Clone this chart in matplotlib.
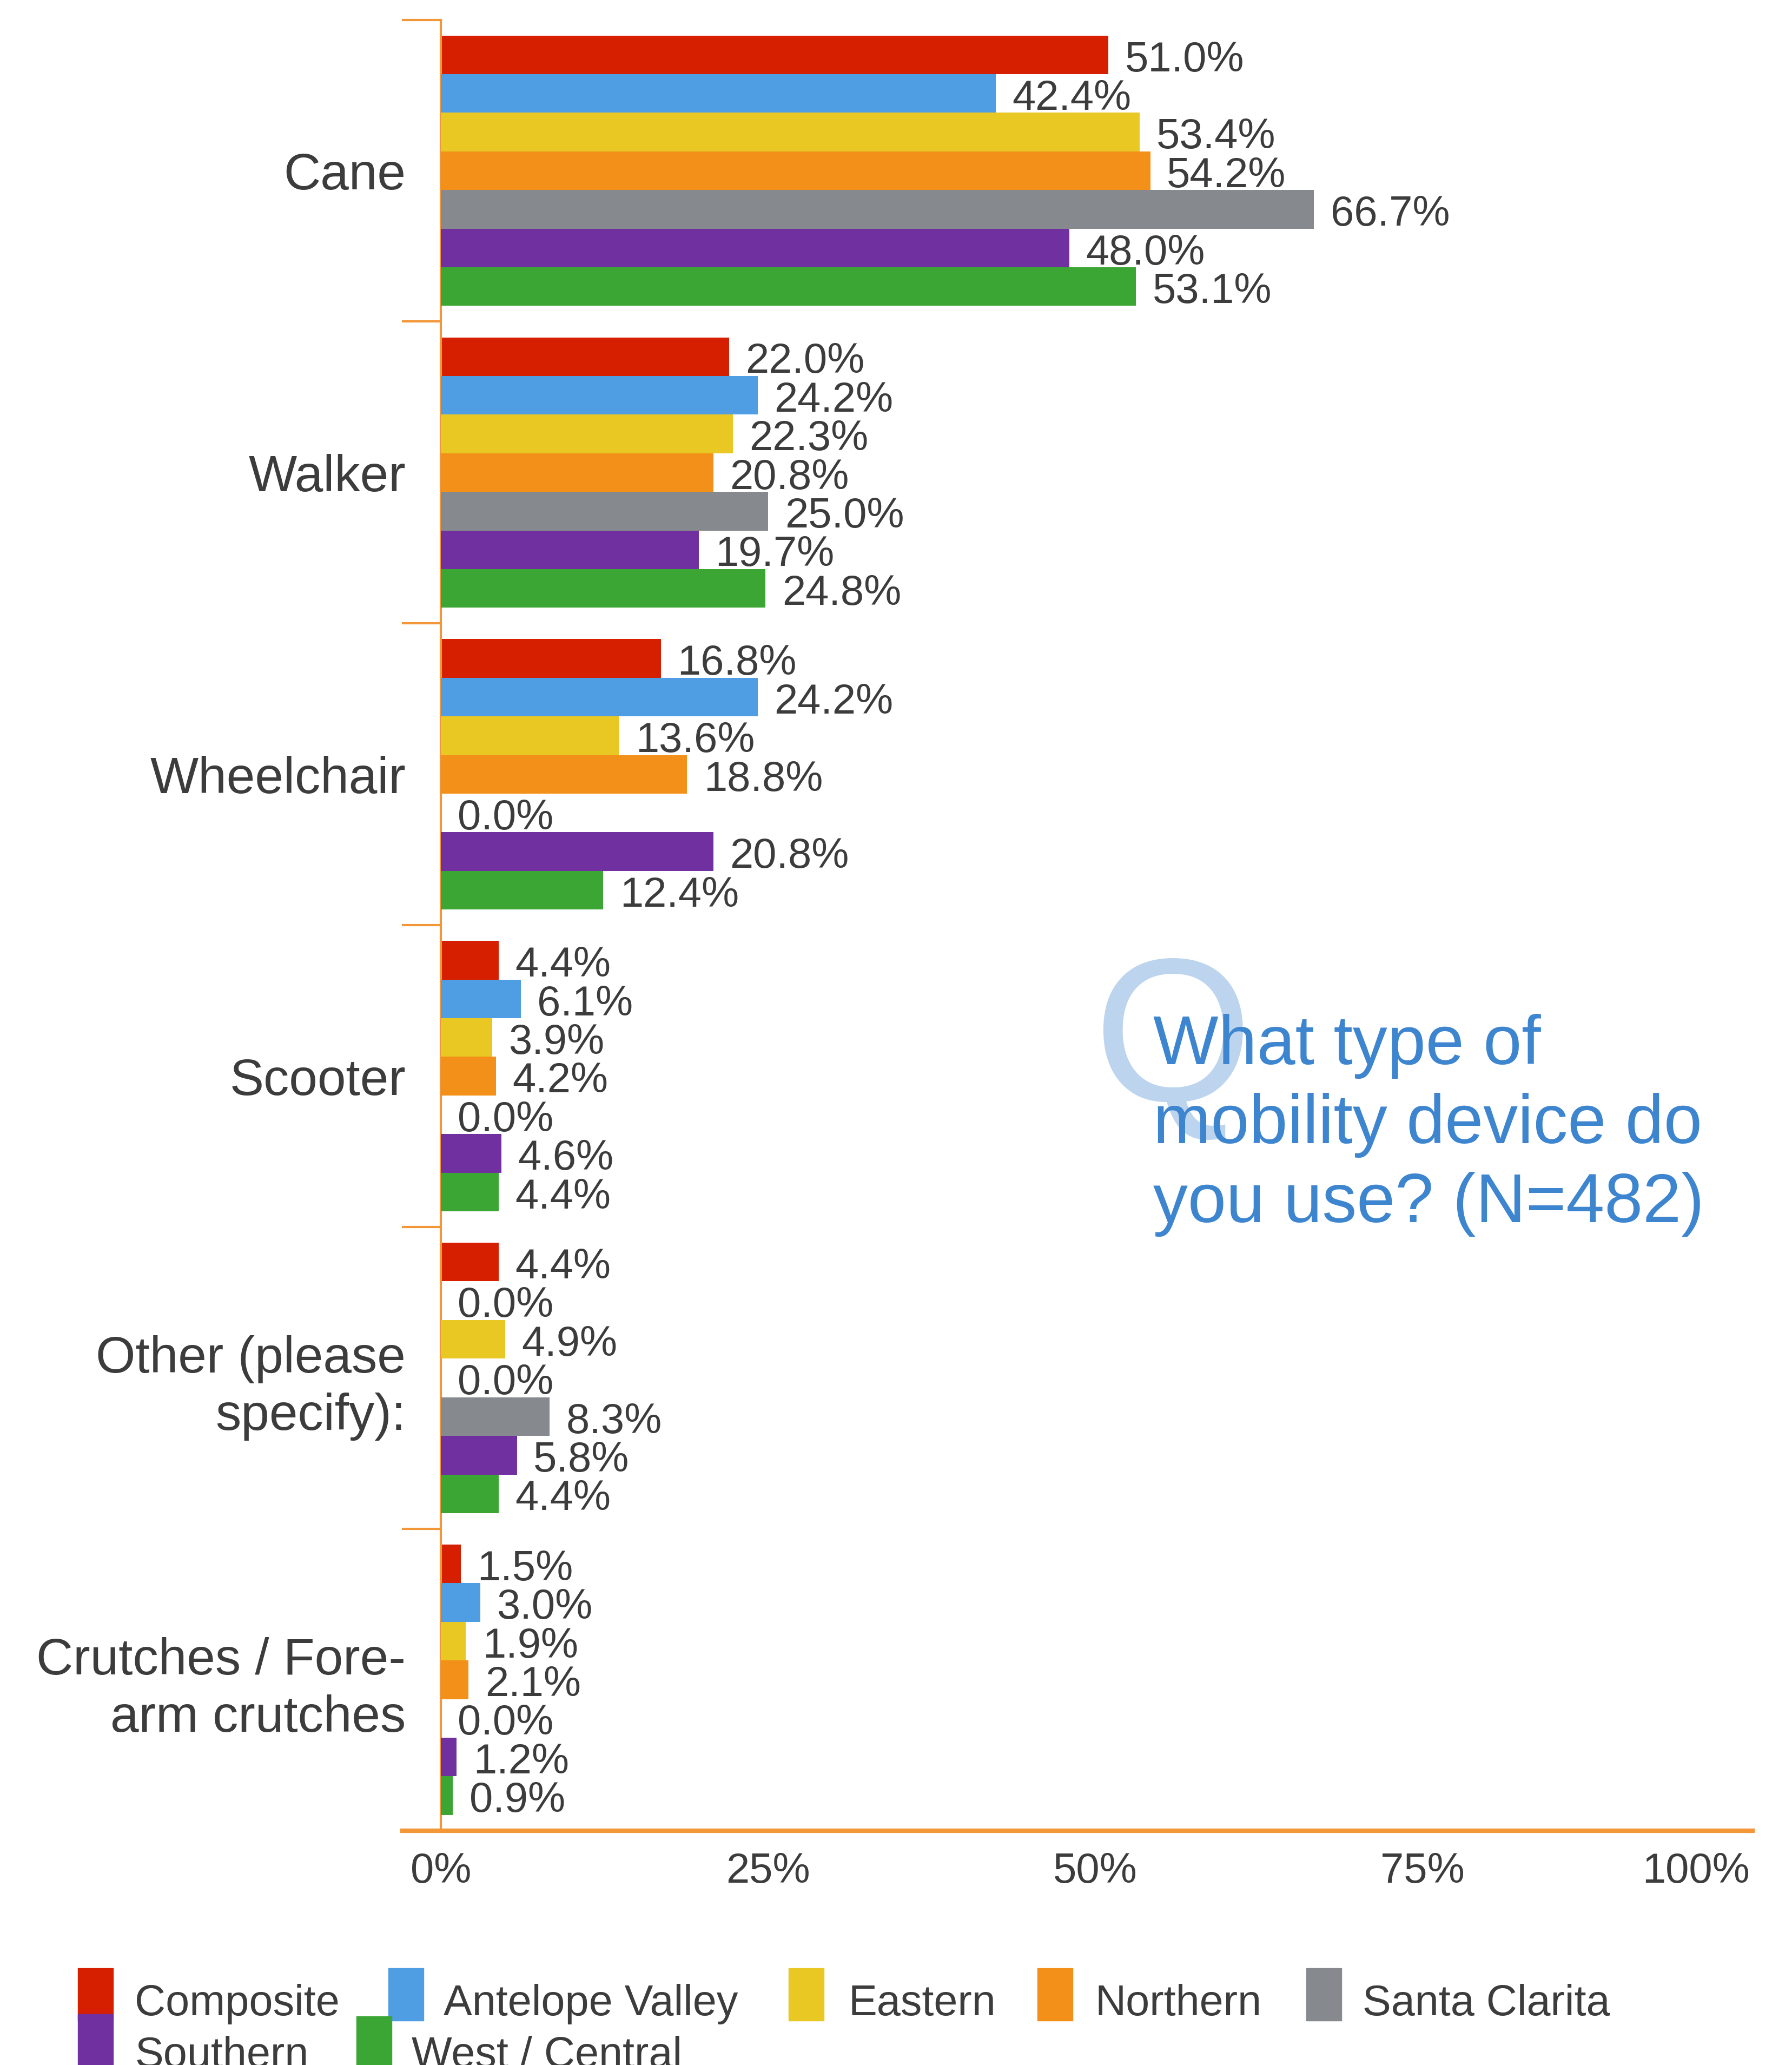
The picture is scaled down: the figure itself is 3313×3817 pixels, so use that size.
import numpy as np
import matplotlib.pyplot as plt
from matplotlib.patches import Rectangle

plt.rcParams['font.family'] = ['Liberation Sans', 'DejaVu Sans']

categories = ['Cane', 'Walker', 'Wheelchair', 'Scooter',
              'Other (please\nspecify):', 'Crutches / Fore-\narm crutches']
regions = ['Composite', 'Antelope Valley', 'Eastern', 'Northern',
           'Santa Clarita', 'Southern', 'West / Central']

composite = [51.0, 22.0, 16.8, 4.4, 4.4, 1.5]
antelope_valley = [42.4, 24.2, 24.2, 6.1, 0.0, 3.0]
eastern = [53.4, 22.3, 13.6, 3.9, 4.9, 1.9]
northern = [54.2, 20.8, 18.8, 4.2, 0.0, 2.1]
santa_clarita = [66.7, 25.0, 0.0, 0.0, 8.3, 0.0]
southern = [48.0, 19.7, 20.8, 4.6, 5.8, 1.2]
west_central = [53.1, 24.8, 12.4, 4.4, 4.4, 0.9]

xticks = [0, 25, 50, 75, 100]
xtick_labels = ['0%', '25%', '50%', '75%', '100%']

series = [composite, antelope_valley, eastern, northern,
          santa_clarita, southern, west_central]
colors = ['#d51f00', '#4f9de2', '#e9c824', '#f39019',
          '#86898d', '#7030a0', '#3ba634']
axis_col = '#f29638'
text_col = '#3c3c3c'

W, H = 3313, 3817
fig = plt.figure(figsize=(W / 100, H / 100), dpi=100)

def fx(px):
    return px / W

def fy(py):
    return 1 - py / H

ax = fig.add_axes([0.2461, 0.1135, 0.7303, 0.8769])

y = np.arange(len(categories))
h = 0.128
for i, (vals, col) in enumerate(zip(series, colors)):
    pos = y + (i - 3) * h
    ax.barh(pos, vals, height=h, color=col, zorder=2 + 2 * i)
    for p, v in zip(pos, vals):
        ax.annotate(f'{v:.1f}%', (v, p), xytext=(22, -7),
                    textcoords='offset points', ha='left', va='center',
                    fontsize=56, color=text_col, zorder=3 + 2 * i)

ax.set_xlim(0, 100)
ax.set_ylim(len(categories) - 0.5, -0.5)

for s in ['top', 'right']:
    ax.spines[s].set_visible(False)
ax.spines['left'].set_color(axis_col)
ax.spines['left'].set_linewidth(3)
ax.spines['bottom'].set_visible(False)
# bottom line runs a bit past the left axis
ax.plot([-0.031, 1.004], [0, 0], transform=ax.transAxes, color=axis_col,
        lw=6, clip_on=False, solid_capstyle='butt', zorder=20)

ax.set_yticks(y, labels=categories)
ax.set_yticks(np.arange(-0.5, len(categories), 1), minor=True)
ax.tick_params(axis='y', which='major', length=0, pad=47, labelsize=68,
               labelcolor=text_col)
ax.tick_params(axis='y', which='minor', length=52, width=3, color=axis_col)
for lab in ax.get_yticklabels():
    lab.set_linespacing(1.25)

ax.set_xticks(xticks, labels=xtick_labels)
ax.tick_params(axis='x', length=0, pad=28, labelsize=56, labelcolor=text_col)
ax.get_xticklabels()[-1].set_ha('right')

# question badge and text
fig.text(fx(2168), fy(2035), 'Q', fontsize=272, color='#bcd4ee',
         ha='center', va='baseline', zorder=1)
title_lines = ['What type of', 'mobility device do', 'you use? (N=482)']
for k, line in enumerate(title_lines):
    fig.text(fx(2132), fy(1967 + 146 * k), line, fontsize=92,
             color='#3d85cf', ha='left', va='baseline', zorder=2)

# legend laid out in two rows
leg_patch = [(144, 3638), (718, 3638), (1458, 3638), (1918, 3638),
             (2415, 3638), (144, 3723), (659, 3727)]
leg_text = [(249, 3725), (820, 3725), (1568, 3725), (2024, 3725),
            (2519, 3725), (249, 3821), (761, 3821)]
for name, col, (px, py), (tx, ty) in zip(regions, colors, leg_patch, leg_text):
    fig.patches.append(Rectangle((fx(px), fy(py + 97)), 65 / W, 97 / H,
                                 color=col, transform=fig.transFigure,
                                 figure=fig))
    fig.text(fx(tx), fy(ty), name, fontsize=57, color=text_col,
             ha='left', va='baseline')

fig.savefig('out.png', dpi=100, facecolor='white')
